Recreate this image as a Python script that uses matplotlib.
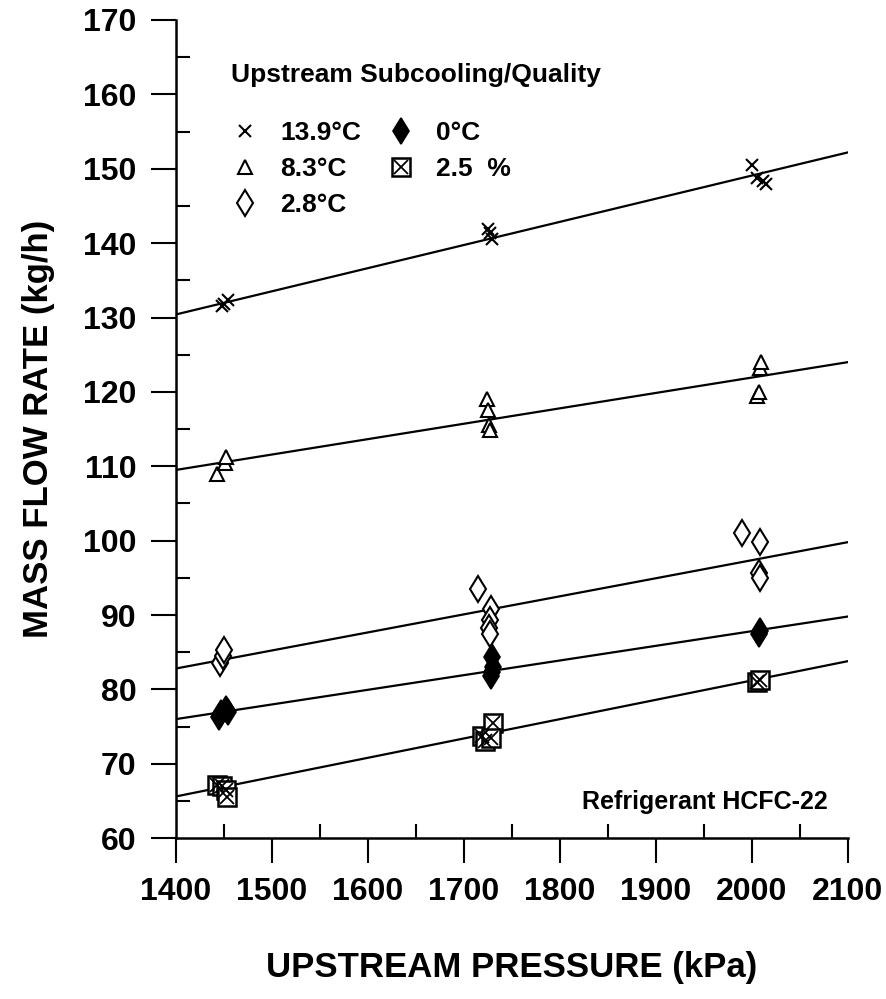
import matplotlib
matplotlib.use("Agg")
import matplotlib.pyplot as plt
from matplotlib.legend_handler import HandlerTuple
from matplotlib.ticker import MultipleLocator

plt.rcParams["font.family"] = ["Liberation Sans Narrow", "Liberation Sans", "DejaVu Sans"]
plt.rcParams["font.weight"] = "bold"

# ── DATA ──────────────────────────────────────────────────────────────────────
sub139_p = [1448, 1450, 1455, 1725, 1727, 1729, 2000, 2005, 2012, 2015]
sub139_m = [131.5, 131.8, 132.3, 141.9, 141.3, 140.5, 150.5, 148.7, 148.3, 148.0]

sub83_p = [1443, 1451, 1452, 1724, 1725, 1726, 1727, 2005, 2007, 2008, 2009]
sub83_m = [109.0, 110.5, 111.2, 119.0, 117.5, 115.6, 114.9, 119.5, 120.0, 123.2, 124.0]

sub28_p = [1446, 1449, 1450, 1715, 1728, 1727, 1726, 1727, 1990, 2008, 2007, 2008]
sub28_m = [83.6, 84.5, 85.3, 93.5, 90.8, 89.3, 88.2, 87.5, 101.0, 99.8, 95.7, 95.0]

sub0_p = [1445, 1447, 1452, 1455, 1729, 1730, 1728, 1729, 2007, 2008]
sub0_m = [76.3, 76.8, 77.3, 77.0, 84.3, 83.0, 81.8, 82.3, 87.5, 87.8]

qual_p = [1443, 1448, 1452, 1453, 1719, 1722, 1730, 1728, 2005, 2008]
qual_m = [67.2, 67.0, 66.5, 65.5, 73.8, 73.0, 75.5, 73.5, 81.0, 81.2]

# regression line end values read at 1400 and 2100 kPa
fit_p = [1400, 2100]
fit139 = [130.4, 152.2]
fit83 = [109.5, 124.0]
fit28 = [82.8, 99.8]
fit0 = [76.0, 89.8]
fitq = [65.6, 83.8]

labels = ["13.9\u00b0C", "8.3\u00b0C", "2.8\u00b0C", "0\u00b0C", "2.5  %"]

# ── FIGURE ────────────────────────────────────────────────────────────────────
fig = plt.figure(figsize=(8.87, 9.99), dpi=100)
ax = fig.add_axes([0.198, 0.161, 0.758, 0.819])

for fv in [fit139, fit83, fit28, fit0, fitq]:
    ax.plot(fit_p, fv, color="black", lw=1.6, zorder=2)

h1, = ax.plot(sub139_p, sub139_m, ls="none", marker="x", ms=9, mew=1.5,
              color="black", zorder=3)
h2, = ax.plot(sub83_p, sub83_m, ls="none", marker="^", ms=10.5, mew=1.5,
              mfc="white", mec="black", zorder=3)
h3, = ax.plot(sub28_p, sub28_m, ls="none", marker="d", ms=13, mew=1.5,
              mfc="white", mec="black", zorder=3)
h4, = ax.plot(sub0_p, sub0_m, ls="none", marker="d", ms=13, mew=1.2,
              mfc="black", mec="black", zorder=3)
h5a, = ax.plot(qual_p, qual_m, ls="none", marker="s", ms=12.5, mew=1.8,
               mfc="white", mec="black", zorder=3)
h5b, = ax.plot(qual_p, qual_m, ls="none", marker="x", ms=9.5, mew=1.3,
               color="black", zorder=4)

ax.set_xlim(1400, 2100)
ax.set_ylim(60, 170)
ax.xaxis.set_major_locator(MultipleLocator(100))
ax.xaxis.set_minor_locator(MultipleLocator(50))
ax.yaxis.set_major_locator(MultipleLocator(10))
ax.yaxis.set_minor_locator(MultipleLocator(5))
ax.tick_params(axis="both", which="major", direction="out", length=18,
               width=1.5, labelsize=23, pad=10)
ax.tick_params(axis="both", which="minor", direction="in", length=10, width=1.5)
for lab in ax.get_xticklabels() + ax.get_yticklabels():
    lab.set_fontweight("bold")

ax.spines["top"].set_visible(False)
ax.spines["right"].set_visible(False)
ax.spines["left"].set_linewidth(1.8)
ax.spines["bottom"].set_linewidth(1.8)

ax.set_xlabel("UPSTREAM PRESSURE (kPa)", fontsize=25, fontweight="bold", labelpad=32)
ax.set_ylabel("MASS FLOW RATE (kg/h)", fontsize=25, fontweight="bold", labelpad=20)

# legend title as plain text, legend entries below it
ax.text(0.083, 0.933, "Upstream Subcooling/Quality", transform=ax.transAxes,
        ha="left", va="center", fontsize=19, fontweight="bold")
leg = ax.legend([h1, h2, h3, h4, (h5a, h5b)], labels,
                handler_map={tuple: HandlerTuple(ndivide=1, pad=0)},
                ncol=2, loc="upper left", bbox_to_anchor=(0.079, 0.876),
                frameon=False, borderpad=0, borderaxespad=0,
                prop={"size": 19, "weight": "bold"},
                handlelength=1.2, handletextpad=0.75, columnspacing=0.9,
                labelspacing=0.45)

ax.text(0.97, 0.03, "Refrigerant HCFC-22", transform=ax.transAxes,
        ha="right", va="bottom", fontsize=18, fontweight="bold")

fig.savefig("out.png", dpi=100)
